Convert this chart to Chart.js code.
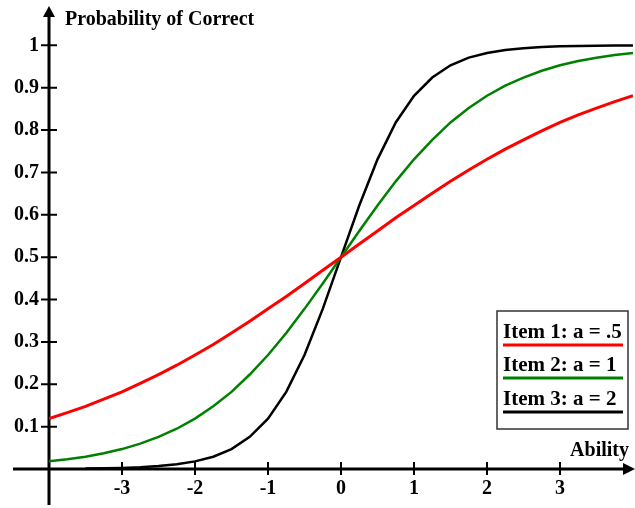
<!DOCTYPE html>
<html><head><meta charset="utf-8">
<script src="https://cdn.jsdelivr.net/npm/chart.js@4"></script>
<style>html,body{margin:0;padding:0;background:#fff;overflow:hidden}#wrap{width:635px;height:508px}</style>
</head><body><div id="wrap"><canvas id="c" width="635" height="508"></canvas></div>
<script>
const abilityValues = [-4,-3.75,-3.5,-3.25,-3,-2.75,-2.5,-2.25,-2,-1.75,-1.5,-1.25,-1,-0.75,-0.5,-0.25,0,0.25,0.5,0.75,1,1.25,1.5,1.75,2,2.25,2.5,2.75,3,3.25,3.5,3.75,4];
const item1Values = [0.119,0.133,0.148,0.165,0.182,0.202,0.223,0.245,0.269,0.294,0.321,0.349,0.378,0.407,0.438,0.469,0.5,0.531,0.562,0.593,0.622,0.651,0.679,0.706,0.731,0.755,0.777,0.798,0.818,0.836,0.852,0.867,0.881];
const item2Values = [0.018,0.023,0.029,0.037,0.047,0.060,0.076,0.095,0.119,0.148,0.182,0.223,0.269,0.321,0.378,0.438,0.5,0.562,0.622,0.679,0.731,0.777,0.818,0.852,0.881,0.905,0.924,0.940,0.953,0.963,0.971,0.977,0.982];
const item3Values = [null,null,0.001,0.0015,0.0025,0.004,0.007,0.011,0.018,0.029,0.047,0.076,0.119,0.182,0.269,0.378,0.5,0.622,0.731,0.818,0.881,0.924,0.953,0.971,0.982,0.989,0.993,0.996,0.998,0.9985,0.999,0.9994,0.9997];
const xTickValues = [-3,-2,-1,0,1,2,3];
const yTickValues = [0.1,0.2,0.3,0.4,0.5,0.6,0.7,0.8,0.9,1];
const seriesLabels = ['Item 1: a = .5','Item 2: a = 1','Item 3: a = 2'];
const seriesColors = ['#ff0000','#008000','#000000'];
const yAxisTitle = 'Probability of Correct';
const xAxisTitle = 'Ability';

const FONT = '"Liberation Serif", "Times New Roman", serif';
const toPoints = vals => abilityValues.map((x,i)=>({x:x, y:vals[i]}));

const axesPlugin = {
  id: 'axesPlugin',
  beforeDatasetsDraw(chart){
    const ctx = chart.ctx;
    const xs = chart.scales.x, ys = chart.scales.y;
    const ax = xs.getPixelForValue(-4), ay = ys.getPixelForValue(0);
    ctx.save();
    ctx.strokeStyle = '#000'; ctx.fillStyle = '#000';
    ctx.lineWidth = 3;
    ctx.beginPath();
    ctx.moveTo(ax, 14); ctx.lineTo(ax, 505);
    ctx.moveTo(13, ay); ctx.lineTo(624, ay);
    ctx.stroke();
    ctx.beginPath();
    ctx.moveTo(ax, 6); ctx.lineTo(ax-6, 17); ctx.lineTo(ax+6, 17); ctx.closePath(); ctx.fill();
    ctx.beginPath();
    ctx.moveTo(635, ay); ctx.lineTo(623, ay-6); ctx.lineTo(623, ay+6); ctx.closePath(); ctx.fill();
    ctx.lineWidth = 2;
    ctx.beginPath();
    yTickValues.forEach(v=>{ const p = ys.getPixelForValue(v); ctx.moveTo(ax-8,p); ctx.lineTo(ax+8,p); });
    xTickValues.forEach(v=>{ const p = xs.getPixelForValue(v); ctx.moveTo(p,ay-7); ctx.lineTo(p,ay+6); });
    ctx.stroke();
    ctx.font = 'bold 20px ' + FONT;
    ctx.textBaseline = 'alphabetic';
    ctx.textAlign = 'left';
    ctx.fillText(yAxisTitle, 65, 25);
    ctx.textAlign = 'right';
    ctx.fillText(xAxisTitle, 629, 456);
    ctx.restore();
  },
  afterDraw(chart){
    const ctx = chart.ctx;
    ctx.save();
    ctx.fillStyle = '#fff';
    ctx.fillRect(497, 311, 131, 118);
    ctx.strokeStyle = '#333'; ctx.lineWidth = 1.5;
    ctx.strokeRect(497, 311, 131, 118);
    ctx.font = 'bold 21px ' + FONT;
    ctx.textAlign = 'left'; ctx.textBaseline = 'alphabetic';
    const bases = [338, 371, 405];
    chart.data.datasets.forEach((ds,i)=>{
      const base = bases[i];
      ctx.fillStyle = '#000';
      ctx.fillText(ds.label, 503, base);
      ctx.strokeStyle = ds.borderColor; ctx.lineWidth = 3;
      ctx.beginPath(); ctx.moveTo(503, base+7); ctx.lineTo(623, base+7); ctx.stroke();
    });
    ctx.restore();
  }
};

new Chart(document.getElementById('c'), {
  type: 'line',
  data: {
    datasets: [
      {label: seriesLabels[0], data: toPoints(item1Values), borderColor: seriesColors[0], borderWidth: 3},
      {label: seriesLabels[1], data: toPoints(item2Values), borderColor: seriesColors[1], borderWidth: 2.5},
      {label: seriesLabels[2], data: toPoints(item3Values), borderColor: seriesColors[2], borderWidth: 2.5}
    ]
  },
  options: {
    responsive: false, animation: false,
    layout: {padding: {top: 3, right: 2, left: 0, bottom: 0}},
    elements: {point: {radius: 0}, line: {tension: 0, fill: false}},
    plugins: {legend: {display: false}, tooltip: {enabled: false}},
    scales: {
      x: {
        type: 'linear', min: -4, max: 4,
        afterBuildTicks: s => { s.ticks = xTickValues.map(v=>({value:v})); },
        afterFit: s => { s.height = 39; s.paddingLeft = 0; s.paddingRight = 0; },
        grid: {display: false, drawTicks: false}, border: {display: false},
        ticks: {color: '#000', padding: 8, maxRotation: 0, autoSkip: false, font: {family: FONT, size: 20, weight: 'bold'}, callback: v => String(v)}
      },
      y: {
        type: 'linear', min: 0, max: 1.1,
        afterBuildTicks: s => { s.ticks = yTickValues.map(v=>({value:v})); },
        afterFit: s => { s.width = 49; s.paddingTop = 0; s.paddingBottom = 0; },
        grid: {display: false, drawTicks: false}, border: {display: false},
        ticks: {color: '#000', padding: 10, autoSkip: false, font: {family: FONT, size: 20, weight: 'bold'}, callback: v => String(Math.round(v*10)/10)}
      }
    }
  },
  plugins: [axesPlugin]
});
</script>
</body></html>
